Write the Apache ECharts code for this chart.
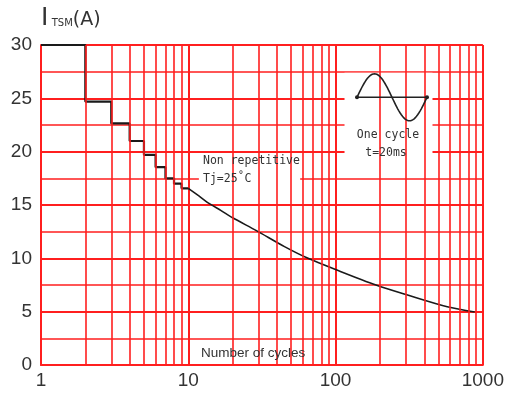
<!DOCTYPE html>
<html><head><meta charset="utf-8">
<script src="https://cdn.jsdelivr.net/npm/echarts@6/dist/echarts.min.js"></script>
<style>html,body{margin:0;padding:0;background:#fff}#c{width:507px;height:393px}</style>
</head><body><div id="c"></div>
<script>
// ---- data ----
const stepCycles   = [1, 2, 3, 4, 5, 6, 7, 8, 9, 10];
const stepCurrent  = [30, 24.7, 22.65, 21.0, 19.7, 18.55, 17.5, 17.0, 16.56, 16.56];
const curveCycles  = [10, 11.8, 14, 16.6, 20, 29, 45, 65, 100, 188, 308, 573, 880];
const curveCurrent = [16.56, 15.85, 15.1, 14.5, 13.8, 12.6, 11.1, 10.0, 8.95, 7.5, 6.56, 5.46, 4.97];
const xTickLabels  = ['1', '10', '100', '1000'];
const yTickLabels  = ['0', '5', '10', '15', '20', '25', '30'];
const minorGridCycles = [2,3,4,5,6,7,8,9,20,30,40,50,60,70,80,90,200,300,400,500,600,700,800,900];

const RED = '#ff1f1f';
const TXT = '#333';
const chart = echarts.init(document.getElementById('c'), null, {renderer: 'canvas'});

// decorative sine icon (illustration, not data)
const sinePts = [];
for (let i = 0; i <= 60; i++) {
  const t = i / 60;
  sinePts.push([357 + 70 * t, 97.3 - 23.5 * Math.sin(2 * Math.PI * t)]);
}

const option = {
  animation: false,
  backgroundColor: '#fff',
  grid: {left: 41, right: 21, top: 45, bottom: 28, containLabel: false},
  xAxis: {
    type: 'log', logBase: 10, min: 1, max: 1000,
    axisLine: {show: true, lineStyle: {color: RED, width: 2}},
    axisTick: {show: false},
    axisLabel: {
      color: TXT, fontSize: 19, fontFamily: 'Liberation Sans, sans-serif', margin: 6,
      formatter: v => xTickLabels.includes(String(v)) ? String(v) : ''
    },
    splitLine: {show: true, lineStyle: {color: RED, width: 2}}
  },
  yAxis: {
    type: 'value', min: 0, max: 30, interval: 5,
    axisLine: {show: true, lineStyle: {color: RED, width: 2}},
    axisTick: {show: false},
    axisLabel: {
      color: TXT, fontSize: 19, fontFamily: 'Liberation Sans, sans-serif', margin: 9,
      formatter: v => yTickLabels.includes(String(v)) ? String(v) : ''
    },
    splitLine: {show: true, lineStyle: {color: RED, width: 2}},
    minorTick: {show: false, splitNumber: 2},
    minorSplitLine: {show: true, lineStyle: {color: RED, width: 1.5}}
  },
  series: [
    {
      name: 'minorGrid', type: 'line', data: [], z: 1, silent: true,
      markLine: {
        silent: true, symbol: ['none', 'none'], label: {show: false},
        lineStyle: {color: RED, width: 1.6, type: 'solid'},
        emphasis: {disabled: true},
        data: minorGridCycles.map(v => ({xAxis: v}))
      }
    },
    {
      name: 'boxes', type: 'line', data: [], z: 2, silent: true,
      markArea: {
        silent: true, itemStyle: {color: '#fff'}, label: {show: false},
        emphasis: {disabled: true},
        data: [
          [{xAxis: 11.8, yAxis: 19.8}, {xAxis: 57.5, yAxis: 15.5}],
          [{xAxis: 115, yAxis: 27.4}, {xAxis: 455, yAxis: 19.0}],
          [{xAxis: 10.3, yAxis: 2.3}, {xAxis: 67, yAxis: 0.15}]
        ]
      }
    },
    {
      name: 'steps', type: 'line', step: 'end', z: 3, symbol: 'none',
      lineStyle: {color: '#1a1a1a', width: 2.2},
      data: stepCycles.map((c, i) => [c, stepCurrent[i]])
    },
    {
      name: 'curve', type: 'line', smooth: 0.3, z: 3, symbol: 'none',
      lineStyle: {color: '#1a1a1a', width: 1.6},
      data: curveCycles.map((c, i) => [c, curveCurrent[i]])
    }
  ],
  graphic: [
    {
      type: 'text', left: 41, top: 6, z: 100,
      style: {
        rich: {
          i: {fontSize: 25, fontFamily: 'DejaVu Sans', fill: TXT, verticalAlign: 'bottom'},
          s: {fontSize: 10, fontFamily: 'DejaVu Sans', fill: TXT, verticalAlign: 'bottom', padding: [0, 0, 3, 0]},
          a: {fontSize: 19, fontFamily: 'DejaVu Sans', fill: TXT, verticalAlign: 'bottom', padding: [0, 0, 1, 0]}
        },
        text: '{i|I} {s|TSM}{a|(A)}'
      }
    },
    {type: 'text', x: 203, y: 161, z: 100,
     style: {text: 'Non repetitive', fontSize: 11.5, fontFamily: 'DejaVu Sans Mono', fill: TXT, verticalAlign: 'middle'}},
    {type: 'text', x: 203, y: 179, z: 100,
     style: {text: 'Tj=25˚C', fontSize: 11.5, fontFamily: 'DejaVu Sans Mono', fill: TXT, verticalAlign: 'middle'}},
    {type: 'text', x: 388, y: 135, z: 100,
     style: {text: 'One cycle', fontSize: 11.5, fontFamily: 'DejaVu Sans Mono', fill: TXT, align: 'center', verticalAlign: 'middle'}},
    {type: 'text', x: 386, y: 153, z: 100,
     style: {text: 't=20ms', fontSize: 11.5, fontFamily: 'DejaVu Sans Mono', fill: TXT, align: 'center', verticalAlign: 'middle'}},
    {type: 'text', x: 201, y: 353, z: 100,
     style: {text: 'Number of cycles', fontSize: 13.5, fontFamily: 'Liberation Sans, sans-serif', fill: TXT, verticalAlign: 'middle'}},
    {type: 'polyline', z: 100, shape: {points: sinePts}, style: {stroke: '#222', lineWidth: 1.6, fill: null}},
    {type: 'line', z: 100, shape: {x1: 357, y1: 97.3, x2: 427, y2: 97.3}, style: {stroke: '#222', lineWidth: 1.6}},
    {type: 'circle', z: 100, shape: {cx: 357, cy: 97.3, r: 2}, style: {fill: '#222'}},
    {type: 'circle', z: 100, shape: {cx: 427, cy: 97.3, r: 2}, style: {fill: '#222'}}
  ]
};
chart.setOption(option);
</script>
</body></html>
